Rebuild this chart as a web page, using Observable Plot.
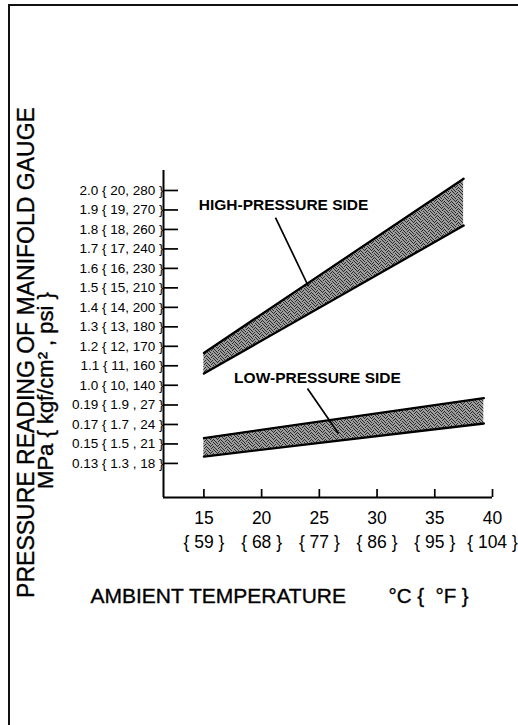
<!DOCTYPE html>
<html><head><meta charset="utf-8">
<script src="https://cdn.jsdelivr.net/npm/d3@7"></script>
<script src="https://cdn.jsdelivr.net/npm/@observablehq/plot@0.6"></script>
<style>
html,body{margin:0;padding:0;background:#fff;}
#wrap{position:relative;width:518px;height:725px;overflow:hidden;background:#fff;}
#border{position:absolute;left:8px;top:4px;right:-4px;bottom:-4px;border-top:2px solid #111;border-left:2px solid #111;pointer-events:none;}
</style></head><body>
<svg width="0" height="0" style="position:absolute">
  <defs>
    <pattern id="stipple" width="7" height="7" patternUnits="userSpaceOnUse">
      <rect width="7" height="7" fill="#9c9c9c"/>
      <rect x="1" y="0" width="1" height="1" fill="#2a2a2a"/><rect x="5" y="0" width="1" height="1" fill="#2a2a2a"/>
      <rect x="3" y="1" width="1" height="1" fill="#2a2a2a"/><rect x="6" y="1" width="1" height="1" fill="#2a2a2a"/>
      <rect x="0" y="2" width="1" height="1" fill="#2a2a2a"/><rect x="4" y="2" width="1" height="1" fill="#2a2a2a"/>
      <rect x="2" y="3" width="1" height="1" fill="#2a2a2a"/><rect x="5" y="3" width="1" height="1" fill="#2a2a2a"/>
      <rect x="1" y="4" width="1" height="1" fill="#2a2a2a"/><rect x="6" y="4" width="1" height="1" fill="#2a2a2a"/>
      <rect x="0" y="5" width="1" height="1" fill="#2a2a2a"/><rect x="3" y="5" width="1" height="1" fill="#2a2a2a"/>
      <rect x="2" y="6" width="1" height="1" fill="#2a2a2a"/><rect x="4" y="6" width="1" height="1" fill="#2a2a2a"/>
    </pattern>
  </defs>
</svg>
<div id="wrap"><div id="border"></div></div>
<script>
// ---- data ----
const yTicks = [0.13, 0.15, 0.17, 0.19, 1.0, 1.1, 1.2, 1.3, 1.4, 1.5, 1.6, 1.7, 1.8, 1.9, 2.0];
const yTickLabels = [
  "0.13 { 1.3 , 18 }", "0.15 { 1.5 , 21 }", "0.17 { 1.7 , 24 }", "0.19 { 1.9 , 27 }",
  "1.0 { 10, 140 }", "1.1 { 11, 160 }", "1.2 { 12, 170 }", "1.3 { 13, 180 }",
  "1.4 { 14, 200 }", "1.5 { 15, 210 }", "1.6 { 16, 230 }", "1.7 { 17, 240 }",
  "1.8 { 18, 260 }", "1.9 { 19, 270 }", "2.0 { 20, 280 }"
];
const xTicks = [15, 20, 25, 30, 35, 40];
const xTickLabels = ["15\n{ 59 }", "20\n{ 68 }", "25\n{ 77 }", "30\n{ 86 }", "35\n{ 95 }", "40\n{ 104 }"];

const highTemp  = [15, 37.5];
const highUpper = [1.166, 2.06];
const highLower = [1.06, 1.82];

const lowTemp  = [15, 39.25];
const lowUpper = [0.156, 0.197];
const lowLower = [0.137, 0.171];

const labelText     = ["HIGH-PRESSURE SIDE", "LOW-PRESSURE SIDE"];
const labelTemp     = [21.9, 24.84];
const labelPressure = [1.923, 1.035];
const leaderTempFrom = [21.2, 23.97];
const leaderPresFrom = [1.861, 0.983];
const leaderTempTo   = [24.06, 26.66];
const leaderPresTo   = [1.507, 0.1607];

const xDomain = [11.5, 40];
const yDomain = [0.095, 0.2, 0.95, 2.1]; // broken axis: two linear segments

const yTitle1 = "PRESSURE READING OF MANIFOLD GAUGE";
const yTitle2 = "MPa { kgf/cm\u00B2 , psi }";
const xTitle1 = "AMBIENT TEMPERATURE";
const xTitle2 = "\u00B0C {  \u00B0F }";

// ---- tables ----
const high = highTemp.map((t, i) => ({t, lo: highLower[i], hi: highUpper[i]}));
const low = lowTemp.map((t, i) => ({t, lo: lowLower[i], hi: lowUpper[i]}));
const labels = labelText.map((s, i) => ({s, t: labelTemp[i], p: labelPressure[i]}));
const leaders = leaderTempFrom.map((t, i) => ({t1: t, p1: leaderPresFrom[i], t2: leaderTempTo[i], p2: leaderPresTo[i]}));
const yLab = new Map(yTicks.map((v, i) => [v, yTickLabels[i]]));
const xLab = new Map(xTicks.map((v, i) => [v, xTickLabels[i]]));

const FONT = "'Liberation Sans', Arial, Helvetica, sans-serif";
const ink = {fill: "#000", stroke: "#000", strokeWidth: 0.35};

const chart = Plot.plot({
  width: 518,
  height: 725,
  marginLeft: 163,
  marginRight: 26,
  marginTop: 170,
  marginBottom: 228,
  style: {fontFamily: FONT, background: "transparent", color: "#000", overflow: "visible"},
  x: {type: "linear", domain: xDomain},
  y: {type: "linear", domain: yDomain, range: [497, 394.75, 394.5, 170.5]},
  marks: [
    Plot.areaY(high, {x: "t", y1: "lo", y2: "hi", fill: "url(#stipple)"}),
    Plot.line(high, {x: "t", y: "hi", stroke: "#000", strokeWidth: 2.3}),
    Plot.line(high, {x: "t", y: "lo", stroke: "#000", strokeWidth: 2.3}),
    Plot.areaY(low, {x: "t", y1: "lo", y2: "hi", fill: "url(#stipple)"}),
    Plot.line(low, {x: "t", y: "hi", stroke: "#000", strokeWidth: 2.3}),
    Plot.line(low, {x: "t", y: "lo", stroke: "#000", strokeWidth: 2.3}),
    Plot.link(leaders, {x1: "t1", y1: "p1", x2: "t2", y2: "p2", stroke: "#000", strokeWidth: 1.7}),
    Plot.text(labels, {x: "t", y: "p", text: "s", fontSize: 15.5, fontWeight: "bold", fill: "#000"}),
    Plot.ruleX([xDomain[0]], {stroke: "#000", strokeWidth: 2}),
    Plot.ruleY([yDomain[0]], {stroke: "#000", strokeWidth: 2}),
    Plot.axisY(yTicks, {tickFormat: d => yLab.get(d), tickSize: -15, tickPadding: 15, fontSize: 13.5, strokeWidth: 1.7, label: null, fill: "#000", stroke: "#000"}),
    Plot.axisX(xTicks, {tickFormat: d => xLab.get(d), tickSize: -8, tickPadding: 17.5, fontSize: 17.5, lineHeight: 1.38, strokeWidth: 1.7, label: null, fill: "#000", stroke: "#000"}),
    Plot.text([yTitle1], {frameAnchor: "top-left", dx: -146, dy: 182, rotate: -90, fontSize: 23, textAnchor: "middle", ...ink}),
    Plot.text([yTitle2], {frameAnchor: "top-left", dx: -126, dy: 220, rotate: -90, fontSize: 22, textAnchor: "middle", ...ink}),
    Plot.text([xTitle1], {frameAnchor: "top-left", dx: -73, dy: 418, fontSize: 21, textAnchor: "start", ...ink}),
    Plot.text([xTitle2], {frameAnchor: "top-left", dx: 225, dy: 418, fontSize: 20.5, textAnchor: "start", ...ink})
  ]
});
chart.style.position = "absolute";
chart.style.left = "0";
chart.style.top = "0";
document.getElementById("wrap").insertBefore(chart, document.getElementById("border"));
</script>
</body></html>
